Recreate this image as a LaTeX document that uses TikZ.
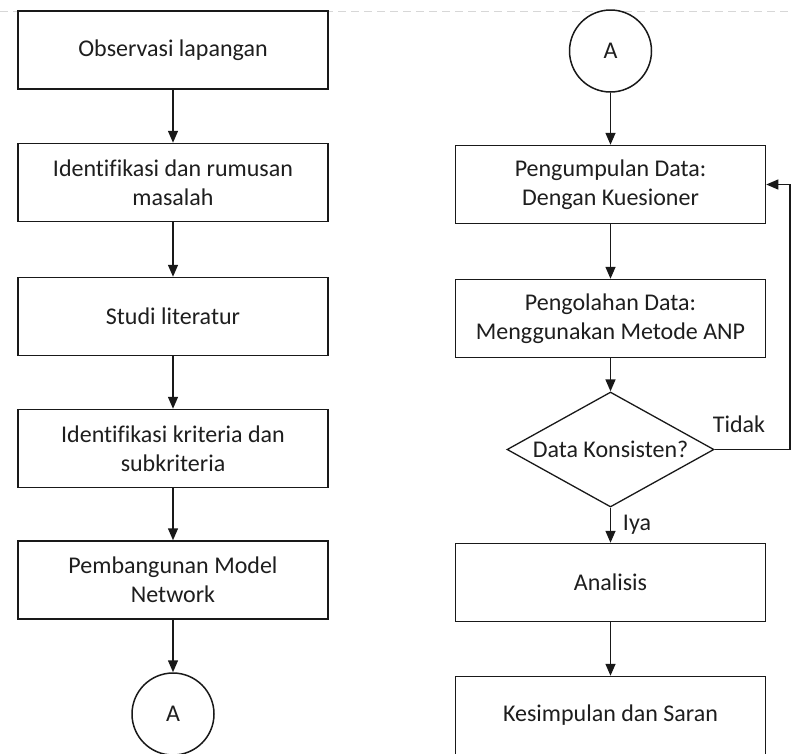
\documentclass[tikz,border=0pt]{standalone}
\usepackage{fontspec}
\setmainfont[Ligatures=NoCommon]{Carlito}
\usetikzlibrary{positioning,shapes.geometric,arrows.meta}
\tikzstyle{canvas} = [x = 1pt, y = -1pt]
\definecolor{lineColor}{RGB}{25,25,25}
\definecolor{textColor}{RGB}{30,30,30}
\definecolor{pageLineColor}{RGB}{215,215,215}
\tikzstyle{stepStyle} = [draw=lineColor, fill=white, line width=1.5pt, minimum width=310pt, minimum height=78pt, inner sep=0pt, align=center, text=textColor, font=\fontsize{24}{29}\selectfont]
\tikzstyle{connectorStyle} = [circle, draw=lineColor, fill=white, line width=1.5pt, minimum size=82pt, inner sep=0pt, text=textColor, font=\fontsize{24}{29}\selectfont]
\tikzstyle{decisionStyle} = [diamond, aspect=1.8, draw=lineColor, fill=white, line width=1.3pt, minimum width=207pt, minimum height=115pt, inner sep=0pt, text=textColor, font=\fontsize{24}{29}\selectfont]
\tikzstyle{flowLine} = [draw=lineColor, line width=1.5pt, -{Triangle[length=12pt, width=10pt]}]
\tikzstyle{flowLabel} = [text=textColor, font=\fontsize{24}{29}\selectfont, inner sep=0pt]
\tikzstyle{pageLine} = [draw=pageLineColor, line width=1pt, dash pattern=on 8pt off 5pt]
\newcommand{\stepNode}[4]{\node [stepStyle] (#1) at (#2,#3) {#4};}
\newcommand{\flowArrow}[2]{\draw [flowLine] (#1) -- (#2);}

\begin{document}
\begin{tikzpicture}[canvas]
  \useasboundingbox (0,0) rectangle (792,753);
  \clip (0,0) rectangle (792,753);
  \draw [pageLine] (0,11) -- (792,11);

  % left column
  \stepNode{observasi}{173}{50}{Observasi lapangan}
  \stepNode{rumusan}{173}{182.5}{Identifikasi dan rumusan\\masalah}
  \stepNode{literatur}{173}{316.5}{Studi literatur}
  \stepNode{kriteria}{173}{448.5}{Identifikasi kriteria dan\\subkriteria}
  \stepNode{model}{173}{580}{Pembangunan Model\\Network}
  \node [connectorStyle] (toRight) at (173,714) {A};

  % right column
  \node [connectorStyle] (fromLeft) at (610.5,51) {A};
  \stepNode{collect}{610.5}{184.5}{Pengumpulan Data:\\Dengan Kuesioner}
  \stepNode{process}{610.5}{318.5}{Pengolahan Data:\\Menggunakan Metode ANP}
  \node [decisionStyle] (check) at (610.5,449.5) {Data Konsisten?};
  \stepNode{analysis}{610.5}{582.5}{Analisis}
  \stepNode{conclusion}{610.5}{715.5}{Kesimpulan dan Saran}
  \coordinate (loopTop) at (790,184.5);

  \flowArrow{observasi}{rumusan}
  \flowArrow{rumusan}{literatur}
  \flowArrow{literatur}{kriteria}
  \flowArrow{kriteria}{model}
  \flowArrow{model}{toRight}
  \flowArrow{fromLeft}{collect}
  \flowArrow{collect}{process}
  \flowArrow{process}{check}
  \flowArrow{check}{analysis}
  \flowArrow{analysis}{conclusion}
  \draw [flowLine, line width=1.2pt] (check.east) -| (loopTop) -- (collect.east);

  \node [flowLabel] (tidak) at (739,424) {Tidak};
  \node [flowLabel] (iya) at (637,525) {Iya};
\end{tikzpicture}
\end{document}
